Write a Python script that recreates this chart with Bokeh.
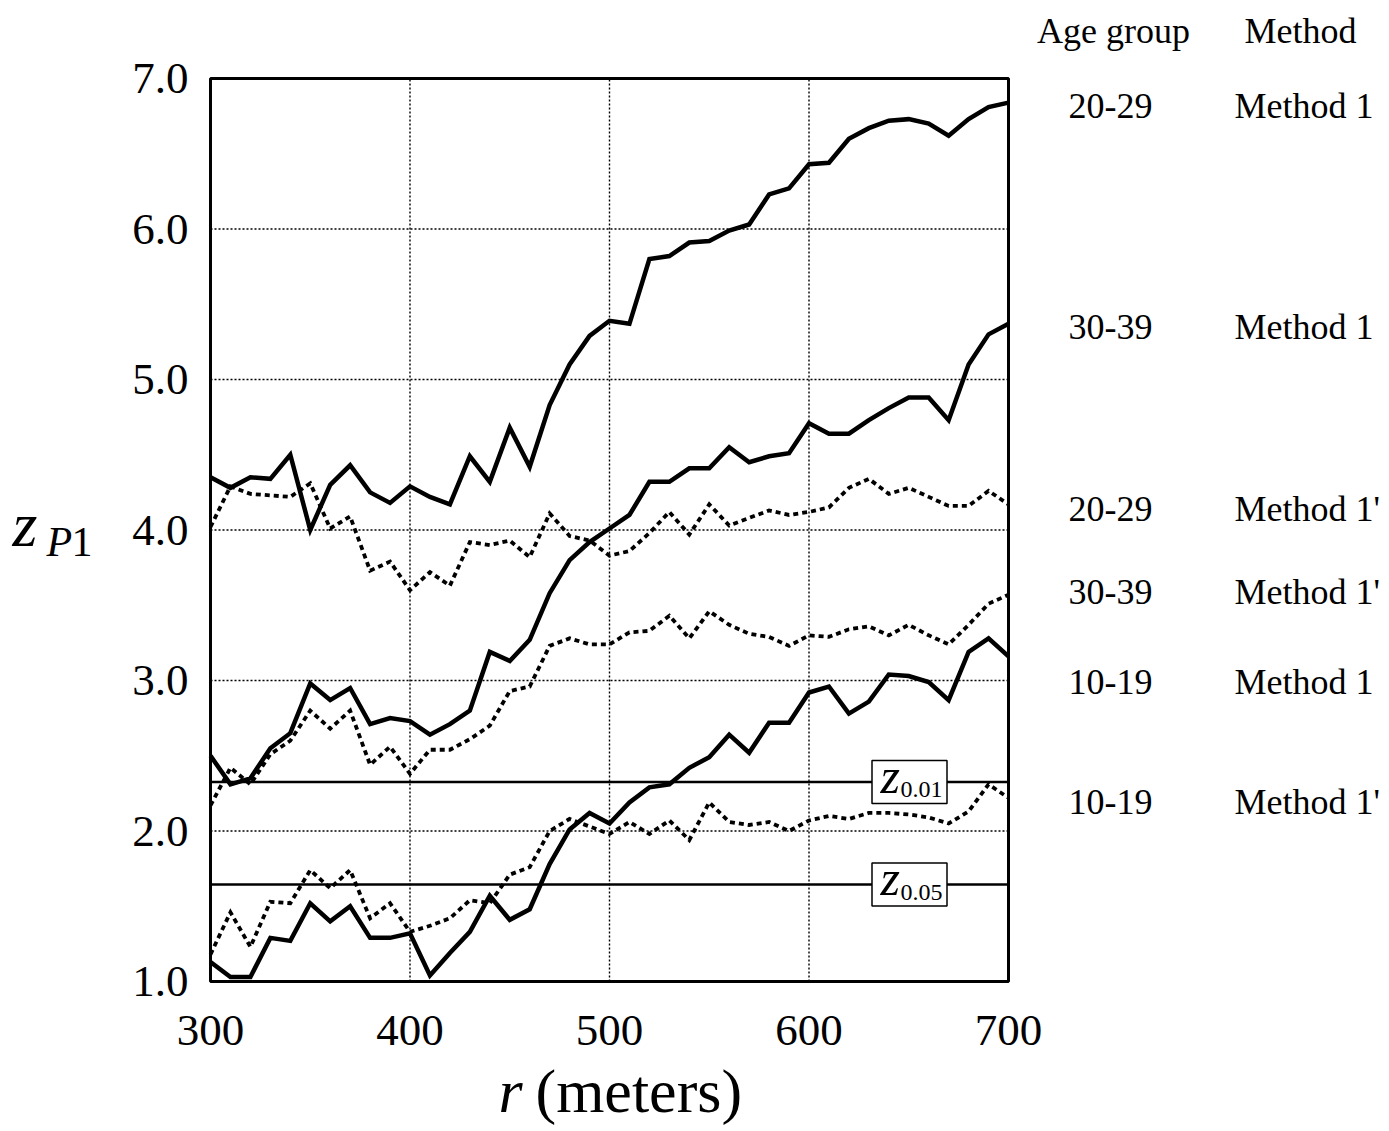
from bokeh.plotting import figure
from bokeh.models import Range1d
from bokeh.core.properties import value
from bokeh.embed import file_html
from bokeh.resources import INLINE

# ---------------- data ----------------
r = list(range(300, 701, 10))

z_20_29_m1 = [4.35, 4.28, 4.35, 4.34, 4.50, 4.00, 4.30, 4.43, 4.25, 4.18, 4.29,
              4.22, 4.17, 4.49, 4.32, 4.68, 4.42, 4.83, 5.10, 5.29, 5.39,
              5.37, 5.80, 5.82, 5.91, 5.92, 5.99, 6.03, 6.23, 6.27, 6.43,
              6.44, 6.60, 6.67, 6.72, 6.73, 6.70, 6.62, 6.73, 6.81, 6.84]
z_30_39_m1 = [2.50, 2.31, 2.35, 2.55, 2.65, 2.98, 2.87, 2.95, 2.71, 2.75, 2.73,
              2.64, 2.71, 2.80, 3.19, 3.13, 3.27, 3.58, 3.80, 3.92, 4.01,
              4.10, 4.32, 4.32, 4.41, 4.41, 4.55, 4.45, 4.49, 4.51, 4.71,
              4.64, 4.64, 4.73, 4.81, 4.88, 4.88, 4.73, 5.10, 5.30, 5.37]
z_20_29_m1p = [4.02, 4.29, 4.24, 4.23, 4.22, 4.31, 4.01, 4.09, 3.73, 3.79, 3.60,
               3.72, 3.63, 3.92, 3.90, 3.93, 3.82, 4.11, 3.96, 3.93, 3.83,
               3.86, 3.98, 4.12, 3.97, 4.17, 4.03, 4.08, 4.13, 4.10, 4.12,
               4.15, 4.28, 4.34, 4.24, 4.28, 4.22, 4.16, 4.16, 4.26, 4.17]
z_30_39_m1p = [2.17, 2.42, 2.31, 2.51, 2.60, 2.80, 2.68, 2.80, 2.44, 2.56, 2.38,
               2.54, 2.54, 2.61, 2.70, 2.93, 2.96, 3.23, 3.28, 3.24, 3.24,
               3.32, 3.33, 3.43, 3.28, 3.46, 3.37, 3.31, 3.29, 3.23, 3.30,
               3.29, 3.34, 3.36, 3.30, 3.37, 3.30, 3.24, 3.37, 3.51, 3.57]
z_10_19_m1 = [1.13, 1.03, 1.03, 1.29, 1.27, 1.52, 1.40, 1.50, 1.29, 1.29, 1.32,
              1.04, 1.19, 1.33, 1.57, 1.41, 1.48, 1.78, 2.01, 2.12, 2.05,
              2.19, 2.29, 2.31, 2.42, 2.49, 2.64, 2.52, 2.72, 2.72, 2.92,
              2.96, 2.78, 2.86, 3.04, 3.03, 2.99, 2.87, 3.19, 3.28, 3.16]
z_10_19_m1p = [1.18, 1.46, 1.23, 1.53, 1.52, 1.74, 1.62, 1.74, 1.42, 1.52, 1.33,
               1.37, 1.42, 1.54, 1.52, 1.71, 1.76, 2.00, 2.08, 2.03, 1.98,
               2.06, 1.98, 2.07, 1.94, 2.19, 2.06, 2.04, 2.06, 2.00, 2.07,
               2.10, 2.08, 2.12, 2.12, 2.11, 2.09, 2.05, 2.13, 2.31, 2.22]

series = [z_20_29_m1, z_30_39_m1, z_20_29_m1p, z_30_39_m1p, z_10_19_m1, z_10_19_m1p]
series_dashed = [False, False, True, True, False, True]

label_groups = ["20-29", "30-39", "20-29", "30-39", "10-19", "10-19"]
label_methods = ["Method 1", "Method 1", "Method 1'", "Method 1'", "Method 1", "Method 1'"]
label_y = [6.82, 5.35, 4.14, 3.59, 2.99, 2.19]

z_crit = [2.326, 1.645]
z_crit_names = ["0.01", "0.05"]

x_ticks = [300, 400, 500, 600, 700]
y_ticks = [1, 2, 3, 4, 5, 6, 7]
x_min, x_max = 300, 700
y_min, y_max = 1, 7

# ---------------- layout (pixels) ----------------
FONT = "Liberation Serif"
W, H = 1386, 1129
FL, FR, FT, FB = 210, 1008, 78, 981          # plot frame edges in pixels
SX = (FR - FL) / (x_max - x_min)             # px per metre
SY = (FB - FT) / (y_max - y_min)             # px per z unit


def X(px):
    return x_min + (px - FL) / SX


def Y(py):
    return y_max - (py - FT) / SY


p = figure(width=W, height=H, output_backend="svg", toolbar_location=None,
           x_range=Range1d(X(0), X(W)), y_range=Range1d(Y(H), Y(0)),
           x_axis_location=None, y_axis_location=None,
           min_border=0, min_border_left=0, min_border_right=0,
           min_border_top=0, min_border_bottom=0)
p.grid.visible = False
p.outline_line_color = None
p.background_fill_color = "white"
p.border_fill_color = "white"

# grid lines (dotted) inside the frame
p.segment(x0=x_ticks, y0=[y_min] * len(x_ticks), x1=x_ticks, y1=[y_max] * len(x_ticks),
          line_color="black", line_width=1.4, line_dash="2 2")
p.segment(x0=[x_min] * len(y_ticks), y0=y_ticks, x1=[x_max] * len(y_ticks), y1=y_ticks,
          line_color="black", line_width=1.4, line_dash="2 2")

# critical value lines
p.segment(x0=[x_min] * len(z_crit), y0=z_crit, x1=[x_max] * len(z_crit), y1=z_crit,
          line_color="black", line_width=2.6)

# series
for ys, dashed in zip(series, series_dashed):
    if dashed:
        p.line(r, ys, line_color="black", line_width=3.8, line_dash="5 4", line_join="miter")
    else:
        p.line(r, ys, line_color="black", line_width=4.5, line_join="miter")

# frame
p.quad(left=[x_min], right=[x_max], bottom=[y_min], top=[y_max],
       fill_color=None, line_color="black", line_width=3)

# critical value boxes
box_x = X(909)
p.rect(x=[box_x] * len(z_crit), y=z_crit, width=75, height=43,
       width_units="screen", height_units="screen",
       fill_color="white", line_color="black", line_width=1.5)
p.text(x=[box_x - 29 / SX] * len(z_crit), y=[z + 6 / SY for z in z_crit], text=["z"] * len(z_crit),
       text_font=value(FONT), text_font_style="italic", text_font_size=value("50px"),
       text_color="black", text_baseline="middle", text_align="left")
p.text(x=[box_x - 9 / SX] * len(z_crit), y=[z - 8 / SY for z in z_crit], text=z_crit_names,
       text_font=value(FONT), text_font_size=value("24px"),
       text_color="black", text_baseline="middle", text_align="left")

# tick labels
p.text(x=[X(188)] * len(y_ticks), y=y_ticks, text=["%.1f" % t for t in y_ticks],
       text_font=value(FONT), text_font_size=value("45px"), text_color="black",
       text_baseline="middle", text_align="right")
p.text(x=x_ticks, y=[Y(1030)] * len(x_ticks), text=[str(t) for t in x_ticks],
       text_font=value(FONT), text_font_size=value("45px"), text_color="black",
       text_baseline="middle", text_align="center")

# y axis title z_P1
p.text(x=[X(12)], y=[Y(524)], text=["z"], text_font=value(FONT), text_font_style="italic",
       text_font_size=value("64px"), text_color="black", text_baseline="middle",
       text_align="left")
p.text(x=[X(46)], y=[Y(541)], text=["P"], text_font=value(FONT), text_font_style="italic",
       text_font_size=value("42px"), text_color="black", text_baseline="middle",
       text_align="left")
p.text(x=[X(71)], y=[Y(541)], text=["1"], text_font=value(FONT),
       text_font_size=value("42px"), text_color="black", text_baseline="middle",
       text_align="left")

# x axis title r (meters)
p.text(x=[X(498)], y=[Y(1090)], text=["r"], text_font=value(FONT), text_font_style="italic",
       text_font_size=value("62px"), text_color="black", text_baseline="middle",
       text_align="left")
p.text(x=[X(535)], y=[Y(1090)], text=["(meters)"], text_font=value(FONT),
       text_font_size=value("62px"), text_color="black", text_baseline="middle",
       text_align="left")

# right-hand table of labels
p.text(x=[X(1113), X(1300)], y=[Y(30), Y(30)], text=["Age group", "Method"],
       text_font=value(FONT), text_font_size=value("36px"), text_color="black",
       text_baseline="middle", text_align="center")
p.text(x=[X(1110)] * len(label_groups), y=label_y, text=label_groups,
       text_font=value(FONT), text_font_size=value("36px"), text_color="black",
       text_baseline="middle", text_align="center")
p.text(x=[X(1234)] * len(label_methods), y=label_y, text=label_methods,
       text_font=value(FONT), text_font_size=value("36px"), text_color="black",
       text_baseline="middle", text_align="left")

open("out.html", "w").write(file_html(p, INLINE))
